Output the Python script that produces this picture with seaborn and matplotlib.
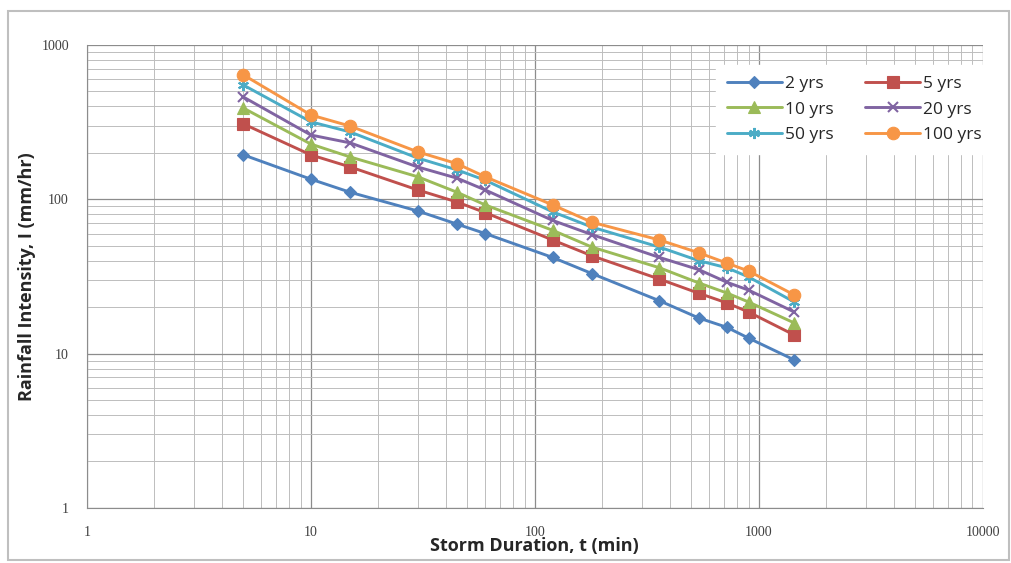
import numpy as np
import pandas as pd
import matplotlib.pyplot as plt
import seaborn as sns
from matplotlib.ticker import LogLocator, FixedLocator, NullFormatter
from matplotlib.patches import Rectangle

# Storm durations (min)
durations = [5, 10, 15, 30, 45, 60, 120, 180, 360, 540, 720, 900, 1440]

# Rainfall intensity (mm/hr) per return period
i_2yr = [194, 135, 111, 84, 69, 60, 42, 33, 22, 17, 14.8, 12.6, 9.1]
i_5yr = [308, 194, 162, 115, 96, 82, 54.5, 43, 30.4, 24.6, 21.3, 18.6, 13.2]
i_10yr = [390, 228, 188, 140, 111, 92, 63, 49, 36, 28.7, 24.7, 21.6, 15.8]
i_20yr = [460, 261, 232, 162, 137, 115, 73, 59, 42, 35, 29, 25.8, 18.6]
i_50yr = [550, 318, 273, 185, 155, 133, 83, 66, 49, 40, 36, 31.4, 21.6]
i_100yr = [640, 352, 298, 203, 170, 140, 92, 71, 54.5, 45, 38.6, 34.3, 24]

series_names = ["2 yrs", "5 yrs", "10 yrs", "20 yrs", "50 yrs", "100 yrs"]
series_vals = [i_2yr, i_5yr, i_10yr, i_20yr, i_50yr, i_100yr]

df = pd.concat(
    [pd.DataFrame({"t": durations, "I": v, "Return period": n})
     for n, v in zip(series_names, series_vals)],
    ignore_index=True,
)

colors = ["#4F81BD", "#C0504D", "#9BBB59", "#8064A2", "#4BACC6", "#F79646"]
marker_map = dict(zip(series_names, ["D", "s", "^", "x", (6, 2, 0), "o"]))
size_map = {"2 yrs": 6, "5 yrs": 9, "10 yrs": 8, "20 yrs": 7, "50 yrs": 8, "100 yrs": 9}

sns.set_style("white")
fig = plt.figure(figsize=(10.11, 5.63), dpi=100)
ax = fig.add_axes([0.086, 0.098, 0.886, 0.822])

# thin outer chart border like Excel
fig.patches.append(Rectangle((0.008, 0.005), 0.99, 0.975, transform=fig.transFigure,
                             fill=False, edgecolor="#BFBFBF", linewidth=1.5))

for name, col in zip(series_names, colors):
    sub = df[df["Return period"] == name]
    sns.lineplot(data=sub, x="t", y="I", ax=ax, color=col, linewidth=2.1,
                 marker=marker_map[name], markersize=size_map[name],
                 markeredgecolor=col, markeredgewidth=1.5 if name in ("20 yrs", "50 yrs") else 0.8,
                 label=name)

ax.set_xscale("log")
ax.set_yscale("log")
ax.set_xlim(1, 10000)
ax.set_ylim(1, 1000)

ax.xaxis.set_major_locator(FixedLocator([1, 10, 100, 1000, 10000]))
ax.yaxis.set_major_locator(FixedLocator([1, 10, 100, 1000]))
ax.xaxis.set_minor_locator(LogLocator(base=10, subs=np.arange(2, 10)))
ax.yaxis.set_minor_locator(LogLocator(base=10, subs=np.arange(2, 10)))
ax.xaxis.set_minor_formatter(NullFormatter())
ax.yaxis.set_minor_formatter(NullFormatter())
ax.set_xticklabels(["1", "10", "100", "1000", "10000"])
ax.set_yticklabels(["1", "10", "100", "1000"])

ax.grid(which="major", color="#8C8C8C", linewidth=0.9)
ax.grid(which="minor", color="#BDBDBD", linewidth=0.7)
ax.tick_params(which="major", length=5, color="#8C8C8C", labelsize=10, labelcolor="#404040", pad=8)
ax.tick_params(which="minor", length=0)
for lbl in ax.get_xticklabels() + ax.get_yticklabels():
    lbl.set_family("Liberation Serif")

for side in ["top", "right"]:
    ax.spines[side].set_visible(False)
for side in ["left", "bottom"]:
    ax.spines[side].set_color("#8C8C8C")

ax.set_xlabel("Storm Duration, t (min)", fontsize=13, fontweight="bold", family="Open Sans", labelpad=-1)
ax.set_ylabel("Rainfall Intensity, I (mm/hr)", fontsize=13, fontweight="bold", family="Open Sans", labelpad=4)

# legend filled row by row as in the reference
handles, labels = ax.get_legend_handles_labels()
order = [0, 2, 4, 1, 3, 5]
leg = ax.legend([handles[i] for i in order], [labels[i] for i in order],
                ncol=2, loc="upper right", bbox_to_anchor=(1.02, 0.975), frameon=True,
                fancybox=False, edgecolor="white", framealpha=1, fontsize=12.5,
                handlelength=3.2, handletextpad=0.15, columnspacing=1.8, labelspacing=0.55,
                borderpad=0.6)
for t in leg.get_texts():
    t.set_family("Open Sans")
    t.set_color("#262626")

fig.savefig("out.png", dpi=100)
